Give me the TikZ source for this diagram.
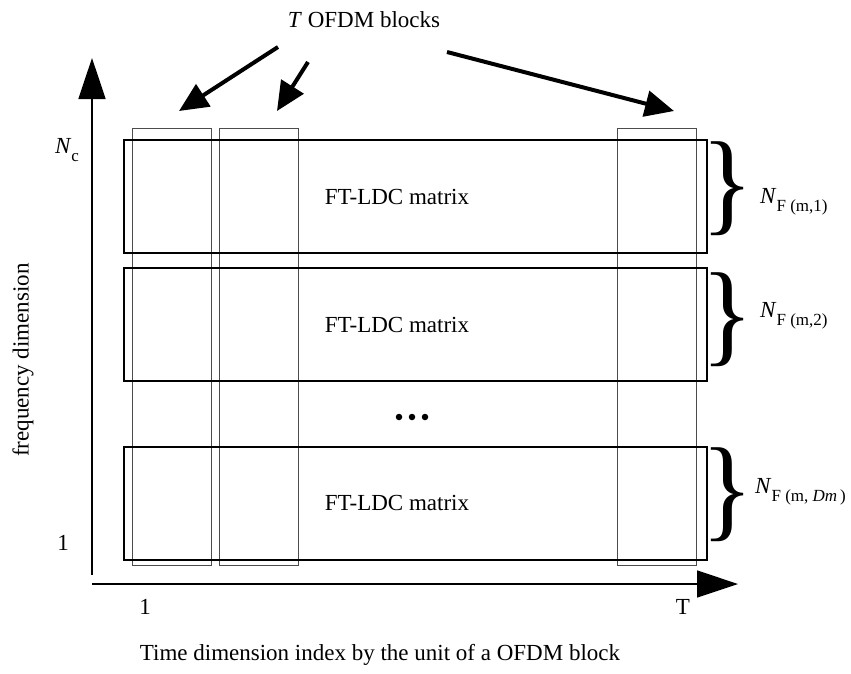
\documentclass[tikz,border=0pt]{standalone}
\usepackage{fontspec}
\usepackage{graphicx}
\setmainfont{Liberation Serif}
\usetikzlibrary{arrows.meta}
\newcommand\lowsub[1]{\raisebox{-8pt}{\fontsize{17}{19}\selectfont #1}}
\newcommand\bigbrace{\resizebox*{52pt}{94pt}{\}}}
\begin{document}
\begin{tikzpicture}[x=1pt,y=-1pt,
  every node/.style={font=\fontsize{23}{28}\selectfont, inner sep=0pt},
  matbox/.style={draw, line width=1.5pt, minimum width=583pt, minimum height=113pt, anchor=north west},
  colbox/.style={draw=black!70, line width=0.9pt, minimum width=79pt, minimum height=437pt, anchor=north west},
  axisline/.style={line width=1.5pt, -{Triangle[length=41pt,width=27pt]}},
  ptr/.style={line width=4pt, -{Triangle[length=29pt,width=26pt]}},
  dot/.style={circle, fill=black, minimum size=6.5pt}
]
\useasboundingbox (0,0) rectangle (851,673);

% OFDM block columns
\node[colbox] (c1) at (132,128) {};
\node[colbox] (c2) at (219,128) {};
\node[colbox] (c3) at (617,128) {};

% FT-LDC matrices
\node[matbox] (m1) at (123,139) {};
\node[matbox] (m2) at (123,267) {};
\node[matbox] (m3) at (123,446) {};
\node (t1) at (397,197) {FT-LDC matrix};
\node (t2) at (397,325) {FT-LDC matrix};
\node (t3) at (397,503) {FT-LDC matrix};

% dots
\node[dot] (d1) at (399,417) {};
\node[dot] (d2) at (412,417) {};
\node[dot] (d3) at (425,417) {};

% axes
\coordinate (yo) at (92,575);
\coordinate (ytip) at (92,58);
\coordinate (xo) at (92,584);
\coordinate (xtip) at (738,584);
\draw[axisline] (yo) -- (ytip);
\draw[axisline] (xo) -- (xtip);

% axis labels
\node (nc) at (67,150) {\textit{N}\lowsub{c}};
\node (y1) at (63,543) {1};
\node (x1) at (145,607) {1};
\node (xT) at (683,607) {T};
\node[rotate=90] (fd) at (23,360) {frequency dimension};
\node (tl) at (380,655) {Time dimension index by the unit of a OFDM block};

% title and pointers
\node (title) at (364,20) {\textit{T} OFDM blocks};
\coordinate (p1s) at (278,47);
\coordinate (p1e) at (179,111);
\coordinate (p2s) at (308,62);
\coordinate (p2e) at (277,111);
\coordinate (p3s) at (447,52);
\coordinate (p3e) at (674,111);
\draw[ptr] (p1s) -- (p1e);
\draw[ptr] (p2s) -- (p2e);
\draw[ptr] (p3s) -- (p3e);

% braces and labels
\node (b1) at (727,189) {\bigbrace};
\node (b2) at (727,320) {\bigbrace};
\node (b3) at (727,495) {\bigbrace};
\node[anchor=west] (n1) at (760,202) {\textit{N}\lowsub{F (m,1)}};
\node[anchor=west] (n2) at (760,316) {\textit{N}\lowsub{F (m,2)}};
\node[anchor=west] (n3) at (755,492) {\textit{N}\lowsub{F (m,\ \textit{Dm}\,)}};
\end{tikzpicture}
\end{document}
